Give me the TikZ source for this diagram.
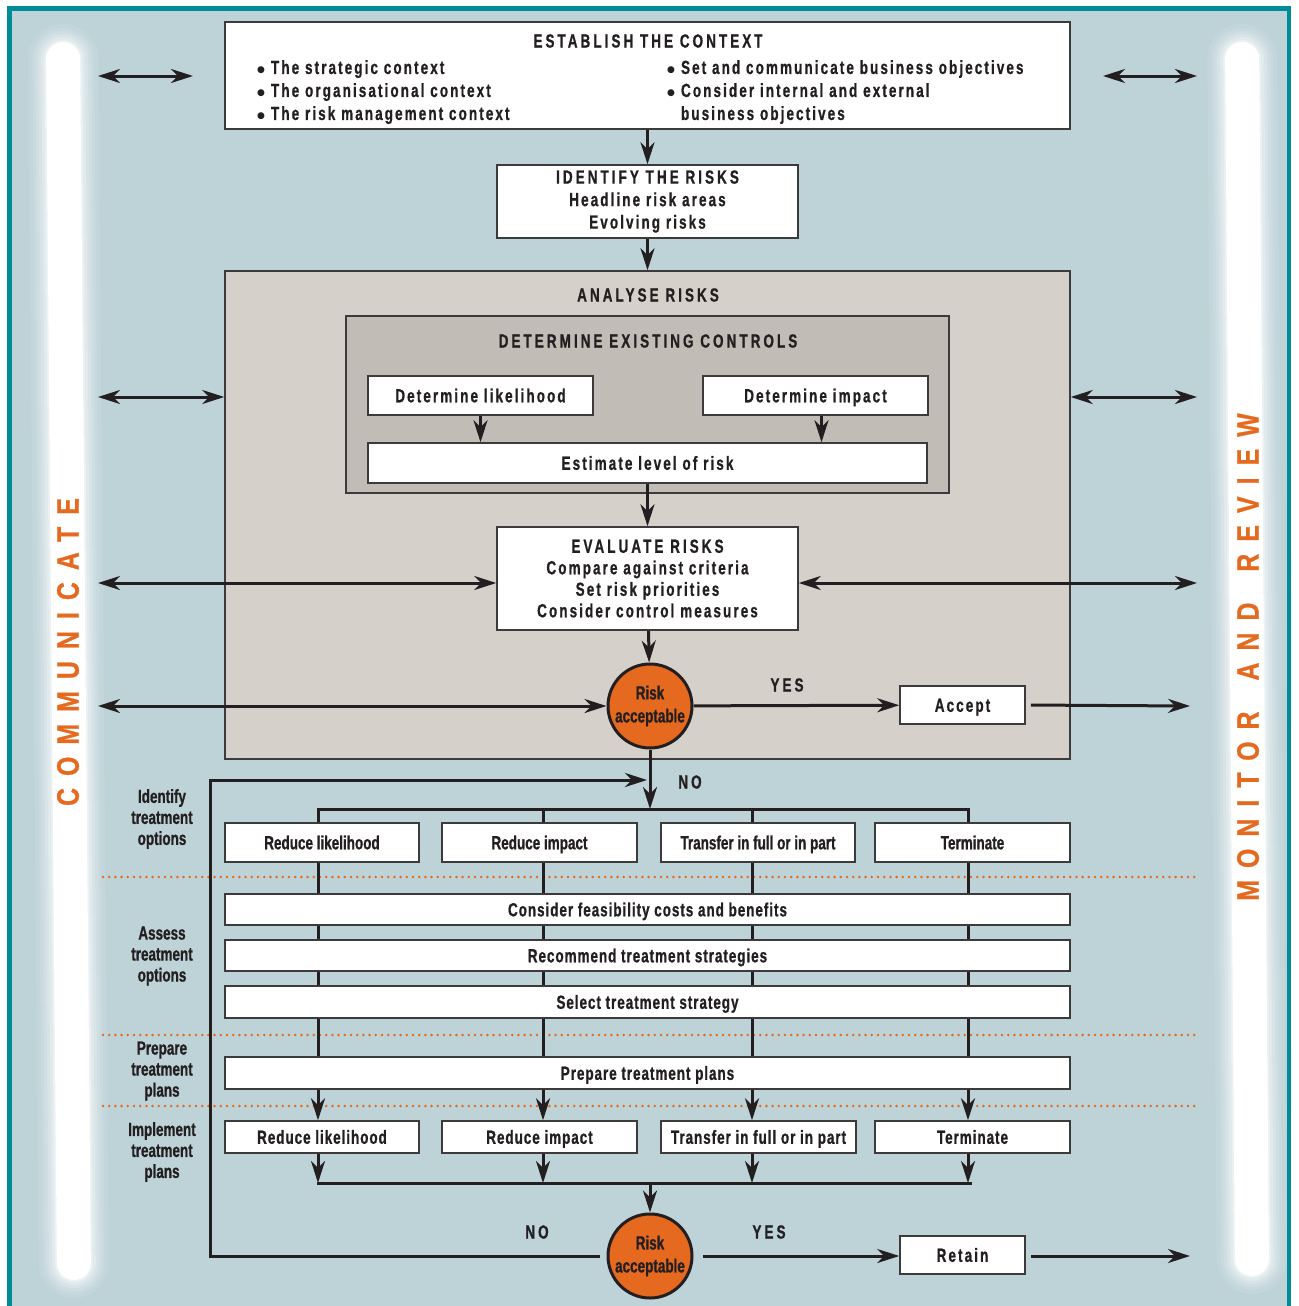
\documentclass[tikz,border=0pt]{standalone}
\usepackage{fontspec}
\setmainfont{Liberation Sans}
\newfontfamily\condfont{Liberation Sans}[FakeStretch=0.71,BoldFeatures={FakeBold=0.8}]
\newfontfamily\medfont{Liberation Sans}[FakeStretch=0.71,LetterSpace=5,BoldFeatures={FakeBold=0.8}]
\newfontfamily\bodyfont{Liberation Sans}[FakeStretch=0.71,LetterSpace=11,BoldFeatures={FakeBold=0.8}]
\newfontfamily\headfont{Liberation Sans}[FakeStretch=0.71,LetterSpace=16,BoldFeatures={FakeBold=0.8}]
\newfontfamily\sidefont{Liberation Sans}[FakeStretch=0.8,LetterSpace=39,BoldFeatures={FakeBold=0.8}]
\newfontfamily\dotfont{DejaVu Sans}
\usetikzlibrary{arrows.meta}

\definecolor{panel}{RGB}{190,211,216}
\definecolor{frame}{RGB}{0,140,150}
\definecolor{analysegrey}{RGB}{213,209,202}
\definecolor{controlgrey}{RGB}{193,188,181}
\definecolor{riskorange}{RGB}{229,105,30}
\definecolor{ink}{RGB}{35,31,32}
\definecolor{boxline}{RGB}{60,58,58}

\pgfdeclarelayer{bg}
\pgfdeclarelayer{wires}
\pgfsetlayers{bg,wires,main}

\newcommand{\bul}{\raisebox{1.5pt}{\dotfont\fontsize{9}{9}\selectfont ●}\hspace{6pt}}

\tikzset{
  >={Stealth[length=22pt,width=14pt,inset=7pt]},
  box/.style={draw=boxline, fill=white, line width=1.5pt, inner sep=0pt, text=ink, align=center,
    font=\bodyfont\bfseries\fontsize{19}{22}\selectfont},
  oneline/.style={text height=13.6pt, text depth=0pt},
  panelbox/.style={draw=boxline, line width=1.5pt, inner sep=0pt},
  optbox/.style={box, oneline, minimum width=194pt, minimum height=39pt, font=\condfont\bfseries\fontsize{19}{22}\selectfont},
  implbox/.style={box, oneline, minimum width=195pt, minimum height=32pt, font=\medfont\bfseries\fontsize{19}{22}\selectfont},
  stratbox/.style={box, oneline, minimum width=845pt, font=\medfont\bfseries\fontsize{19}{22}\selectfont},
  decision/.style={circle, draw=ink, fill=riskorange, line width=3pt, minimum size=84pt, inner sep=0pt,
    text=ink, align=center, font=\condfont\bfseries\fontsize{19}{23}\selectfont},
  headtext/.style={text=ink, inner sep=0pt, font=\headfont\bfseries\fontsize{19}{22}\selectfont},
  listtext/.style={text=ink, inner sep=0pt, align=left, font=\bodyfont\bfseries\fontsize{19}{23}\selectfont},
  steplabel/.style={text=ink, inner sep=0pt, align=center, font=\condfont\bfseries\fontsize{19}{21}\selectfont},
  sidetext/.style={text=riskorange, inner sep=0pt, font=\sidefont\bfseries\fontsize{31}{31}\selectfont},
  wire/.style={draw=ink, line width=3pt},
  flow/.style={wire, ->},
  twoway/.style={wire, <->},
  dots/.style={draw=riskorange, line width=2.8pt, line cap=round, dash pattern=on 0pt off 6.2pt}
}

% soft white bar: top x, bottom x, top y, bottom y
\newcommand{\pillar}[4]{%
  \foreach \g/\o in {18/0.08,14/0.1,11/0.13,8/0.17,5/0.24,2/0.4,0/1}{%
    \pgfmathsetmacro{\rr}{17+\g}%
    \fill[white, opacity=\o, rounded corners=\rr pt]
      (#1-\rr, #3-\g) -- (#1+\rr, #3-\g) -- (#2+\rr, #4+\g) -- (#2-\rr, #4+\g) -- cycle;
  }}

\begin{document}
\begin{tikzpicture}[x=1pt, y=-1pt]
\useasboundingbox (0,0) rectangle (1298,1306);

% Frame, panel and the two side bars
\begin{pgfonlayer}{bg}
\fill[white] (0,0) rectangle (1298,1306);
\fill[frame] (7,6) rectangle (1291,1306);
\fill[panel] (12,11) rectangle (1286.5,1306);
\pillar{63}{74}{42}{1280}
\pillar{1242}{1252}{42}{1276}
\end{pgfonlayer}

\node[sidetext, rotate=90] (comm) at (68,652) {COMMUNICATE};
\node[sidetext, rotate=90] (monrev) at (1248,657) {MONITOR\hspace{12pt} AND\hspace{12pt} REVIEW};

% Establish the context
\node[box, minimum width=845pt, minimum height=107pt] (est) at (647.5,75.5) {};
\node[headtext] (esttitle) at (648,41) {ESTABLISH THE CONTEXT};
\node[listtext, anchor=north west] (estleft) at (257,60)
  {\bul The strategic context\\\bul The organisational context\\\bul The risk management context};
\node[listtext, anchor=north west] (estright) at (667,60)
  {\bul Set and communicate business objectives\\\bul Consider internal and external\\\phantom{\bul}business objectives};

% Identify
\node[box, minimum width=301pt, minimum height=73pt, font=\bodyfont\bfseries\fontsize{19}{22.5}\selectfont] (idf) at (647.5,201.5)
  {{\headfont IDENTIFY THE RISKS}\\Headline risk areas\\Evolving risks};

% Analyse
\node[panelbox, fill=analysegrey, minimum width=845pt, minimum height=488pt] (an) at (647.5,515) {};
\node[headtext] (antitle) at (648,295) {ANALYSE RISKS};
\node[panelbox, fill=controlgrey, minimum width=603pt, minimum height=177pt] (ctl) at (647.5,404.5) {};
\node[headtext] (ctltitle) at (648,341) {DETERMINE EXISTING CONTROLS};
\node[box, oneline, minimum width=225pt, minimum height=39pt] (dlk) at (480.5,395.5) {Determine likelihood};
\node[box, oneline, minimum width=225pt, minimum height=39pt] (dim) at (815.5,395.5) {Determine impact};
\node[box, oneline, minimum width=559pt, minimum height=40pt] (lvl) at (647.5,463) {Estimate level of risk};

% Evaluate
\node[box, minimum width=301pt, minimum height=103pt, font=\bodyfont\bfseries\fontsize{19}{21.5}\selectfont] (ev) at (647.5,578.5)
  {{\headfont EVALUATE RISKS}\\Compare against criteria\\Set risk priorities\\Consider control measures};

\node[decision] (rc1) at (650,706) {Risk\\acceptable};
\node[box, oneline, minimum width=125pt, minimum height=38pt] (acc) at (962.5,705) {Accept};
\node[headtext] (yes1) at (787,685) {YES};
\node[headtext] (no1) at (690,782) {NO};

% Treatment options
\node[optbox] (rl1) at (322,842.5) {Reduce likelihood};
\node[optbox, minimum width=195pt] (ri1) at (539.5,842.5) {Reduce impact};
\node[optbox] (tf1) at (758,842.5) {Transfer in full or in part};
\node[optbox, minimum width=195pt] (tm1) at (972.5,842.5) {Terminate};

\node[stratbox, minimum height=31pt] (cf) at (647.5,909.5) {Consider feasibility costs and benefits};
\node[stratbox, minimum height=31pt] (rs) at (647.5,955.5) {Recommend treatment strategies};
\node[stratbox, minimum height=32pt] (ss) at (647.5,1002) {Select treatment strategy};
\node[stratbox, minimum height=32pt] (pp) at (647.5,1073) {Prepare treatment plans};

\node[implbox, minimum width=194pt] (rl2) at (322,1137) {Reduce likelihood};
\node[implbox] (ri2) at (539.5,1137) {Reduce impact};
\node[implbox] (tf2) at (758.5,1137) {Transfer in full or in part};
\node[implbox] (tm2) at (972.5,1137) {Terminate};

\node[decision] (rc2) at (650,1256) {Risk\\acceptable};
\node[box, oneline, minimum width=125pt, minimum height=38pt] (ret) at (962.5,1255) {Retain};
\node[headtext] (yes2) at (769,1232) {YES};
\node[headtext] (no2) at (537,1232) {NO};

% Stage labels
\node[steplabel] (lbidf) at (162,819) {Identify\\treatment\\options};
\node[steplabel] (lbass) at (162,956) {Assess\\treatment\\options};
\node[steplabel] (lbprep) at (162,1071) {Prepare\\treatment\\plans};
\node[steplabel] (lbimpl) at (162,1152) {Implement\\treatment\\plans};

% Named ends
\coordinate (la1) at (98,76);   \coordinate (la1e) at (193,76);
\coordinate (ra1) at (1103,76); \coordinate (ra1e) at (1197,76);
\coordinate (la2) at (98,397);  \coordinate (ra2) at (1197,397);
\coordinate (la3) at (98,583);  \coordinate (ra3) at (1197,583);
\coordinate (la4) at (98,706);  \coordinate (ra4) at (1190,706);
\coordinate (ra5) at (1190,1256);
\coordinate (v1) at (318,809);
\coordinate (v2) at (543,809);
\coordinate (v3) at (752,809);
\coordinate (v4) at (968,809);
\coordinate (bb) at (650,1183);
\coordinate (lp) at (210,780);
\coordinate (nj) at (647,780);

\begin{pgfonlayer}{wires}
% Stage separators
\foreach \y in {877,1035,1106}
  \draw[dots] (103,\y) -- (1197,\y);
% Option columns
\foreach \v in {v1,v2,v3,v4}{
  \draw[flow] (\v) -- (\v |- rl2.north);
  \draw[flow] (\v |- rl2.south) -- (\v |- bb);
}
\draw[wire, line cap=rect] (v1) -- (v4);
\draw[wire, line cap=rect] (v1 |- bb) -- (970,1183);
\end{pgfonlayer}

% Main flow
\draw[flow] (est) -- (idf);
\draw[flow] (idf) -- (an.north);
\draw[flow] (dlk.south) -- (dlk.south |- lvl.north);
\draw[flow] ([xshift=6pt]dim.south) -- ([xshift=6pt]dim.south |- lvl.north);
\draw[flow] (lvl) -- (ev);
\draw[flow] (ev) -- (rc1);
\draw[flow] (rc1) -- (acc);
\draw[flow] (rc1.south) -- (rc1.south |- v1);
\draw[flow] (bb) -- (rc2);
\draw[flow, shorten <=9pt] (rc2.east) -- (ret.west |- rc2.east);
\draw[flow, shorten <=7pt] (rc2.west) -| (lp) -- (nj);

% Communicate / monitor arrows
\draw[twoway] (la1) -- (la1e);
\draw[twoway] (ra1) -- (ra1e);
\draw[twoway] (la2) -- (la2 -| an.west);
\draw[twoway] (la2 -| an.east) -- (ra2);
\draw[twoway] (la3) -- (la3 -| ev.west);
\draw[twoway] (la3 -| ev.east) -- (ra3);
\draw[twoway] (la4) -- (rc1.west);
\draw[flow, shorten <=5pt] (acc.east) -- (ra4);
\draw[flow, shorten <=5pt] (ret.east |- ra5) -- (ra5);
\end{tikzpicture}
\end{document}
